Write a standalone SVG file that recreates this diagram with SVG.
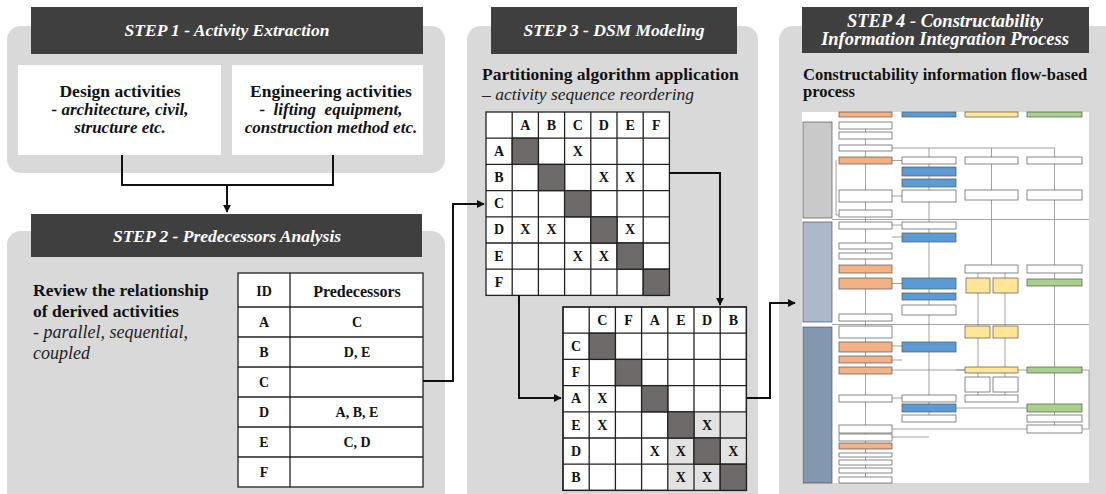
<svg xmlns="http://www.w3.org/2000/svg" width="1106" height="494" viewBox="0 0 1106 494">
  <style>
    text { font-family: "Liberation Serif", "Times New Roman", "DejaVu Serif", serif; }
    .panel { fill: #d9d9d9; }
    .head { fill: #3f3f3f; }
    .htxt { font-weight: bold; font-style: italic; fill: #ffffff; text-anchor: middle; }
    .b { font-weight: bold; fill: #111; }
    .bi { font-weight: bold; font-style: italic; fill: #111; }
    .i { font-style: italic; fill: #222; }
    .c { text-anchor: middle; }
    .cell { fill: #ffffff; stroke: #222; stroke-width: 1.3; }
    .frame { fill: none; stroke: #222; stroke-width: 1.3; }
    .dark { fill: #6f6a6a; stroke: #222; stroke-width: 1.3; }
    .lite { fill: #e2e2e2; }
    .mt { font-weight: bold; font-size: 14px; fill: #111; text-anchor: middle; }
    .conn { fill: none; stroke: #111; stroke-width: 2; }
    .pw { fill: #ffffff; stroke: #555; stroke-width: 0.7; }
    .po { fill: #f4b183; stroke: #555; stroke-width: 0.7; }
    .pb { fill: #5b9bd5; stroke: #555; stroke-width: 0.7; }
    .py { fill: #ffe699; stroke: #555; stroke-width: 0.7; }
    .pg { fill: #a9d18e; stroke: #555; stroke-width: 0.7; }
    .pl { fill: none; stroke: #8c8c8c; stroke-width: 0.8; }
  </style>
  <defs>
    <marker id="arr" viewBox="0 0 10 10" refX="9" refY="5" markerWidth="4" markerHeight="4" orient="auto">
      <path d="M0,0 L10,5 L0,10 z" fill="#111"/>
    </marker>
  </defs>

  <rect width="1106" height="494" fill="#ffffff"/>

  <!-- Step 1 -->
  <g id="step1">
    <rect class="panel" x="7" y="26" width="438" height="147" rx="14"/>
    <rect class="head" x="31" y="7" width="392" height="47"/>
    <text class="htxt" x="227" y="36" font-size="17.5">STEP 1 - Activity Extraction</text>
    <rect x="18" y="65" width="203" height="90" fill="#ffffff"/>
    <rect x="232" y="65" width="191" height="90" fill="#ffffff"/>
    <text class="b c" x="120" y="97" font-size="17.5">Design activities</text>
    <text class="bi c" x="120" y="115" font-size="17">- architecture, civil,</text>
    <text class="bi c" x="120" y="133" font-size="17">structure etc.</text>
    <text class="b c" x="331" y="97" font-size="17.5">Engineering activities</text>
    <text class="bi c" x="331" y="115" font-size="17" xml:space="preserve">-  lifting  equipment,</text>
    <text class="bi c" x="331" y="133" font-size="17">construction method etc.</text>
  </g>

  <!-- Step 2 -->
  <g id="step2">
    <rect class="panel" x="7" y="231" width="438" height="275" rx="14"/>
    <rect class="head" x="31" y="214" width="391" height="43"/>
    <text class="htxt" x="227" y="242" font-size="17.5">STEP 2 - Predecessors Analysis</text>
    <text class="b" x="33" y="296" font-size="17.5">Review the relationship</text>
    <text class="b" x="33" y="317" font-size="17.5">of derived activities</text>
    <text class="i" x="33" y="338" font-size="18">- parallel, sequential,</text>
    <text class="i" x="33" y="359" font-size="18">coupled</text>
    <g id="pred-table">
      <rect class="cell" x="238" y="273" width="185" height="214"/>
      <path d="M290,273 V487 M238,307 H423 M238,337 H423 M238,367 H423 M238,397 H423 M238,427 H423 M238,457 H423" stroke="#222" stroke-width="1.3" fill="none"/>
      <text class="b c" x="264" y="296" font-size="14">ID</text>
      <text class="b c" x="357" y="297" font-size="16">Predecessors</text>
      <text class="mt" x="264" y="327">A</text>
      <text class="mt" x="357" y="327">C</text>
      <text class="mt" x="264" y="357">B</text>
      <text class="mt" x="357" y="357">D, E</text>
      <text class="mt" x="264" y="387">C</text>
      <text class="mt" x="264" y="417">D</text>
      <text class="mt" x="357" y="417">A, B, E</text>
      <text class="mt" x="264" y="447">E</text>
      <text class="mt" x="357" y="447">C, D</text>
      <text class="mt" x="264" y="477">F</text>
    </g>
  </g>

  <!-- Step 3 -->
  <g id="step3">
    <rect class="panel" x="467" y="26" width="291" height="480" rx="14"/>
    <rect class="head" x="491" y="7" width="246" height="47"/>
    <text class="htxt" x="614" y="36" font-size="17.5">STEP 3 - DSM Modeling</text>
    <text class="b" x="482" y="80" font-size="17.5">Partitioning algorithm application</text>
    <text class="i" x="482" y="100" font-size="17.5">– activity sequence reordering</text>

    <!-- original DSM, cell 26.2 -->
    <g id="dsm1">
      <rect class="cell" x="486" y="112" width="183.4" height="183.4"/>
      <path d="M512.2,112 V295.4 M538.4,112 V295.4 M564.6,112 V295.4 M590.8,112 V295.4 M617,112 V295.4 M643.2,112 V295.4 M486,138.2 H669.4 M486,164.4 H669.4 M486,190.6 H669.4 M486,216.8 H669.4 M486,243 H669.4 M486,269.2 H669.4" stroke="#222" stroke-width="1.3" fill="none"/>
      <rect class="dark" x="512.2" y="138.2" width="26.2" height="26.2"/>
      <rect class="dark" x="538.4" y="164.4" width="26.2" height="26.2"/>
      <rect class="dark" x="564.6" y="190.6" width="26.2" height="26.2"/>
      <rect class="dark" x="590.8" y="216.8" width="26.2" height="26.2"/>
      <rect class="dark" x="617" y="243" width="26.2" height="26.2"/>
      <rect class="dark" x="643.2" y="269.2" width="26.2" height="26.2"/>
      <text class="mt" x="525.3" y="130">A</text>
      <text class="mt" x="551.5" y="130">B</text>
      <text class="mt" x="577.7" y="130">C</text>
      <text class="mt" x="603.9" y="130">D</text>
      <text class="mt" x="630.1" y="130">E</text>
      <text class="mt" x="656.3" y="130">F</text>
      <text class="mt" x="499" y="156">A</text>
      <text class="mt" x="499" y="182">B</text>
      <text class="mt" x="499" y="208">C</text>
      <text class="mt" x="499" y="234">D</text>
      <text class="mt" x="499" y="261">E</text>
      <text class="mt" x="499" y="287">F</text>
      <text class="mt" x="577.7" y="156">X</text>
      <text class="mt" x="603.9" y="182">X</text>
      <text class="mt" x="630.1" y="182">X</text>
      <text class="mt" x="525.3" y="234">X</text>
      <text class="mt" x="551.5" y="234">X</text>
      <text class="mt" x="630.1" y="234">X</text>
      <text class="mt" x="577.7" y="261">X</text>
      <text class="mt" x="603.9" y="261">X</text>
    </g>

    <!-- partitioned DSM -->
    <g id="dsm2">
      <rect class="cell" x="563" y="307" width="183.4" height="183.4"/>
      <!-- coupled block E-D-B -->
      <rect class="lite" x="694" y="411.8" width="26.2" height="26.2"/>
      <rect class="lite" x="720.2" y="411.8" width="26.2" height="26.2"/>
      <rect class="lite" x="667.8" y="438" width="26.2" height="26.2"/>
      <rect class="lite" x="720.2" y="438" width="26.2" height="26.2"/>
      <rect class="lite" x="667.8" y="464.2" width="26.2" height="26.2"/>
      <rect class="lite" x="694" y="464.2" width="26.2" height="26.2"/>
      <path d="M589.2,307 V490.4 M615.4,307 V490.4 M641.6,307 V490.4 M667.8,307 V490.4 M694,307 V490.4 M720.2,307 V490.4 M563,333.2 H746.4 M563,359.4 H746.4 M563,385.6 H746.4 M563,411.8 H746.4 M563,438 H746.4 M563,464.2 H746.4" stroke="#222" stroke-width="1.3" fill="none"/>
      <rect class="frame" x="563" y="307" width="183.4" height="183.4"/>
      <rect class="dark" x="589.2" y="333.2" width="26.2" height="26.2"/>
      <rect class="dark" x="615.4" y="359.4" width="26.2" height="26.2"/>
      <rect class="dark" x="641.6" y="385.6" width="26.2" height="26.2"/>
      <rect class="dark" x="667.8" y="411.8" width="26.2" height="26.2"/>
      <rect class="dark" x="694" y="438" width="26.2" height="26.2"/>
      <rect class="dark" x="720.2" y="464.2" width="26.2" height="26.2"/>
      <text class="mt" x="602.3" y="325">C</text>
      <text class="mt" x="628.5" y="325">F</text>
      <text class="mt" x="654.7" y="325">A</text>
      <text class="mt" x="680.9" y="325">E</text>
      <text class="mt" x="707.1" y="325">D</text>
      <text class="mt" x="733.3" y="325">B</text>
      <text class="mt" x="576" y="351">C</text>
      <text class="mt" x="576" y="377">F</text>
      <text class="mt" x="576" y="403">A</text>
      <text class="mt" x="576" y="430">E</text>
      <text class="mt" x="576" y="456">D</text>
      <text class="mt" x="576" y="482">B</text>
      <text class="mt" x="602.3" y="403">X</text>
      <text class="mt" x="602.3" y="430">X</text>
      <text class="mt" x="707.1" y="430">X</text>
      <text class="mt" x="654.7" y="456">X</text>
      <text class="mt" x="680.9" y="456">X</text>
      <text class="mt" x="733.3" y="456">X</text>
      <text class="mt" x="680.9" y="482">X</text>
      <text class="mt" x="707.1" y="482">X</text>
    </g>
  </g>

  <!-- Step 4 -->
  <g id="step4">
    <rect class="panel" x="779" y="26" width="340" height="480" rx="14"/>
    <rect class="head" x="802" y="7" width="287" height="46"/>
    <text class="htxt" x="945" y="27" font-size="18.5">STEP 4 - Constructability</text>
    <text class="htxt" x="945" y="45" font-size="18.5">Information Integration Process</text>
    <text class="b" x="803" y="80" font-size="16.5">Constructability information flow-based</text>
    <text class="b" x="803" y="97" font-size="16.5">process</text>

    <!-- process map -->
    <g id="process-map">
      <rect x="802" y="112" width="287" height="371" fill="#ffffff"/>
      <!-- discipline headers -->
      <rect class="po" x="839" y="112" width="53" height="5"/>
      <rect class="pb" x="902" y="112" width="54" height="5"/>
      <rect class="py" x="965" y="112" width="53" height="5"/>
      <rect class="pg" x="1027" y="112" width="55" height="5"/>
      <!-- phase bands -->
      <rect x="803" y="122" width="29" height="96" fill="#c9c9c9" stroke="#555" stroke-width="0.7"/>
      <rect x="803" y="222" width="29" height="100" fill="#adb9ca" stroke="#555" stroke-width="0.7"/>
      <rect x="803" y="327" width="29" height="156" fill="#8497b0" stroke="#555" stroke-width="0.7"/>
      <path class="pl" d="M832,219.5 H1089 M832,324.5 H1089"/>
      <!-- flow lines -->
      <path class="pl" d="M865.5,129 V477 M892,148 H1055 M929,148 V422 M991.5,148 V265 M1054.5,148 V433 M978,273 V338 M1005,273 V338 M978,338 V402 M1005,338 V402 M836,160 V215 H839 M892,160.5 H902 M892,196 H902 M892,225 H902 M892,237 H902 M892,283.5 H902 M892,346 H902 M892,360 H902 M956,370 H1089 V429 H1082 M892,370 H965 M892,398 H902 M892,429 H1027 M956,408 H1027 M929,437 H892"/>
      <!-- architecture column -->
      <rect class="pw" x="839" y="122" width="53" height="7"/>
      <rect class="pw" x="839" y="132" width="53" height="7"/>
      <rect class="pw" x="839" y="145" width="53" height="6"/>
      <rect class="po" x="839" y="157" width="53" height="7"/>
      <rect class="pw" x="839" y="190" width="53" height="12"/>
      <rect class="pw" x="839" y="210" width="53" height="7"/>
      <rect class="pw" x="839" y="222" width="53" height="7"/>
      <rect class="pw" x="839" y="243" width="53" height="6"/>
      <rect class="pw" x="839" y="253" width="53" height="6"/>
      <rect class="po" x="839" y="265" width="53" height="8"/>
      <rect class="po" x="839" y="278" width="53" height="11"/>
      <rect class="pw" x="839" y="314" width="53" height="7"/>
      <rect class="pw" x="839" y="326" width="53" height="12"/>
      <rect class="po" x="839" y="342" width="53" height="10"/>
      <rect class="po" x="839" y="356" width="53" height="7"/>
      <rect class="po" x="839" y="367" width="53" height="7"/>
      <rect class="pw" x="839" y="395" width="53" height="7"/>
      <rect class="pw" x="839" y="425" width="53" height="8"/>
      <rect class="pw" x="839" y="434" width="53" height="7"/>
      <rect class="po" x="839" y="443" width="53" height="6"/>
      <rect class="pw" x="839" y="453" width="53" height="4"/>
      <rect class="pw" x="839" y="460" width="53" height="5"/>
      <rect class="pw" x="839" y="468" width="53" height="5"/>
      <rect class="pw" x="839" y="477" width="53" height="6"/>
      <!-- structure column -->
      <rect class="pw" x="902" y="157" width="54" height="7"/>
      <rect class="pb" x="902" y="167" width="54" height="9"/>
      <rect class="pb" x="902" y="179" width="54" height="8"/>
      <rect class="pw" x="902" y="190" width="54" height="12"/>
      <rect class="pw" x="902" y="222" width="54" height="7"/>
      <rect class="pb" x="902" y="233" width="54" height="9"/>
      <rect class="pb" x="902" y="278" width="54" height="11"/>
      <rect class="pb" x="902" y="293" width="54" height="7"/>
      <rect class="pw" x="902" y="305" width="54" height="10"/>
      <rect class="pb" x="902" y="342" width="54" height="10"/>
      <rect class="pw" x="902" y="395" width="54" height="7"/>
      <rect class="pb" x="902" y="404" width="54" height="8"/>
      <rect class="pw" x="902" y="415" width="54" height="7"/>
      <!-- MEP column -->
      <rect class="pw" x="965" y="157" width="53" height="7"/>
      <rect class="pw" x="965" y="190" width="53" height="10"/>
      <rect class="pw" x="965" y="265" width="53" height="8"/>
      <rect class="py" x="966" y="278" width="24" height="15"/>
      <rect class="py" x="993" y="278" width="25" height="15"/>
      <rect class="py" x="965" y="326" width="25" height="12"/>
      <rect class="py" x="993" y="326" width="25" height="12"/>
      <rect class="py" x="965" y="367" width="53" height="6"/>
      <rect class="pw" x="965" y="377" width="25" height="15"/>
      <rect class="pw" x="993" y="377" width="25" height="15"/>
      <rect class="pw" x="965" y="395" width="53" height="7"/>
      <!-- construction planning column -->
      <rect class="pw" x="1027" y="157" width="55" height="7"/>
      <rect class="pw" x="1027" y="190" width="55" height="10"/>
      <rect class="pw" x="1027" y="265" width="55" height="8"/>
      <rect class="pg" x="1027" y="279" width="55" height="7"/>
      <rect class="pg" x="1027" y="367" width="55" height="6"/>
      <rect class="pg" x="1027" y="404" width="55" height="8"/>
      <rect class="pw" x="1027" y="415" width="55" height="7"/>
      <rect class="pw" x="1027" y="425" width="55" height="8"/>
    </g>
  </g>

  <!-- connectors -->
  <g id="connectors">
    <path class="conn" d="M122,155 V185 H333 V155"/>
    <path class="conn" d="M227,185 V212" marker-end="url(#arr)"/>
    <path class="conn" d="M423,381 H453 V204 H484" marker-end="url(#arr)"/>
    <path class="conn" d="M669,173 H720 V305" marker-end="url(#arr)"/>
    <path class="conn" d="M519,295 V398 H561" marker-end="url(#arr)"/>
    <path class="conn" d="M747,398 H770 V303 H795" marker-end="url(#arr)"/>
  </g>
</svg>
